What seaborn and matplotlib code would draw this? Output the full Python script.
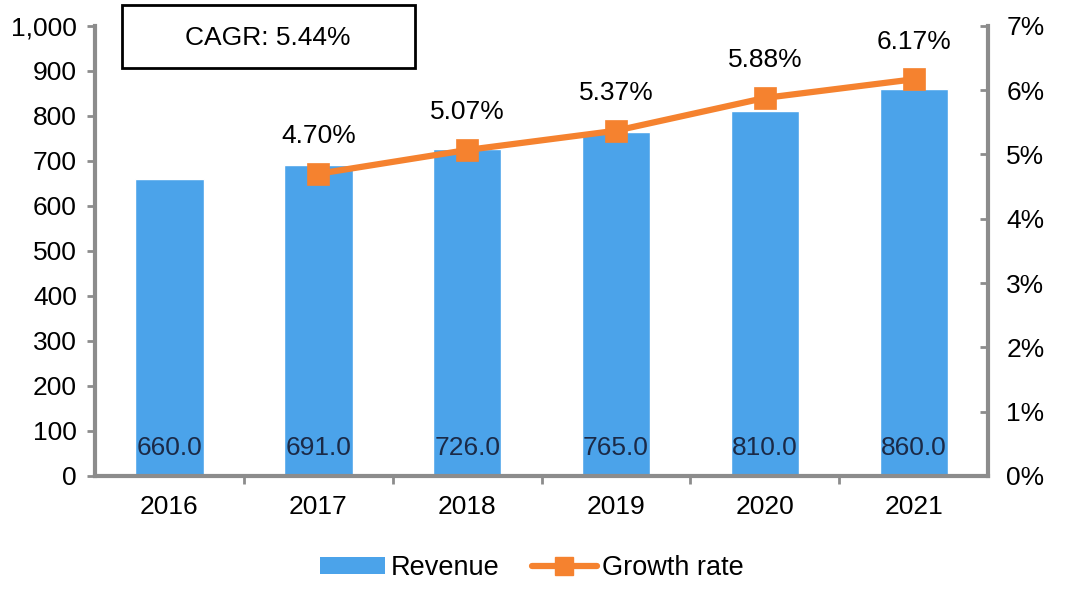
import matplotlib
matplotlib.use("Agg")
import matplotlib.pyplot as plt
import seaborn as sns
import pandas as pd
from matplotlib.patches import Patch
from matplotlib.lines import Line2D
from matplotlib.ticker import FuncFormatter

# donnees
years = ["2016", "2017", "2018", "2019", "2020", "2021"]
revenue = [660.0, 691.0, 726.0, 765.0, 810.0, 860.0]
growth_years = ["2017", "2018", "2019", "2020", "2021"]
growth = [4.70, 5.07, 5.37, 5.88, 6.17]
cagr_text = "CAGR: 5.44%"

blue = "#4BA3EA"
orange = "#F5822F"
grey = "#8C8C8C"

sns.set_theme(style="white")
plt.rcParams["font.family"] = ["Liberation Sans", "DejaVu Sans"]
plt.rcParams["text.color"] = "black"
plt.rcParams["xtick.labelcolor"] = "black"
plt.rcParams["ytick.labelcolor"] = "black"

df_rev = pd.DataFrame({"year": years, "revenue": revenue})
df_gr = pd.DataFrame({"year": growth_years, "growth": growth})

fig = plt.figure(figsize=(10.73, 5.89), dpi=100)
ax = fig.add_axes([0.0885, 0.192, 0.8325, 0.764])

sns.barplot(data=df_rev, x="year", y="revenue", order=years, color=blue,
            width=0.46, saturation=1, ax=ax)
ax.set_ylim(0, 1000)
ax.set_xlim(-0.5, 5.5)
ax.set_yticks(range(0, 1001, 100))
ax.yaxis.set_major_formatter(FuncFormatter(lambda v, p: f"{int(v):,}"))
ax.set_xlabel("")
ax.set_ylabel("")

# etiquettes en bas des barres
for i, v in enumerate(revenue):
    ax.text(i, 63, f"{v:.1f}", ha="center", va="center", fontsize=19, color="#1B2A47")

ax2 = ax.twinx()
sns.pointplot(data=df_gr, x="year", y="growth", order=years, color=orange,
              markers="s", markersize=13, linewidth=4.5, ax=ax2)
ax2.set_ylim(0, 7)
ax2.set_xlim(-0.5, 5.5)
ax2.set_yticks(range(0, 8))
ax2.yaxis.set_major_formatter(FuncFormatter(lambda v, p: f"{int(v)}%"))
ax2.set_ylabel("")

for yr, g in zip(growth_years, growth):
    ax2.annotate(f"{g:.2f}%", (years.index(yr), g), xytext=(0, 27),
                 textcoords="offset points", ha="center", va="center", fontsize=19)

# axes et graduations
for a in (ax, ax2):
    a.spines["top"].set_visible(False)
    for s in a.spines.values():
        s.set_color(grey)
        s.set_linewidth(3)
ax.spines["right"].set_visible(False)
ax2.spines["left"].set_visible(False)
ax2.spines["bottom"].set_visible(False)

ax.tick_params(axis="y", direction="out", length=6, width=2, color=grey,
               labelsize=19, pad=7, left=True)
ax.set_xticks([0.5, 1.5, 2.5, 3.5, 4.5], minor=True)
ax.tick_params(axis="x", which="major", length=0, labelsize=19, pad=14)
ax.tick_params(axis="x", which="minor", direction="out", length=6, width=2,
               color=grey, bottom=True)
ax2.tick_params(axis="y", direction="in", length=6, width=2, color=grey,
                labelsize=19, pad=13, right=True)

# encadre CAGR
fig.patches.append(plt.Rectangle((122 / 1073, 1 - 68 / 589), 293 / 1073, 63 / 589,
                                 transform=fig.transFigure, fill=False,
                                 edgecolor="black", linewidth=2))
fig.text(268 / 1073, 1 - 38 / 589, cagr_text, ha="center", va="center", fontsize=19)

handles = [Patch(facecolor=blue, edgecolor="none"),
           Line2D([0], [0], color=orange, linewidth=4.5, marker="s", markersize=13)]
fig.legend(handles, ["Revenue", "Growth rate"], loc="center", bbox_to_anchor=(0.496, 0.036),
           ncol=2, frameon=False, fontsize=19.5, handlelength=2.4, handleheight=0.6,
           handletextpad=0.2, columnspacing=1.2)

fig.savefig("out.png", dpi=100)
